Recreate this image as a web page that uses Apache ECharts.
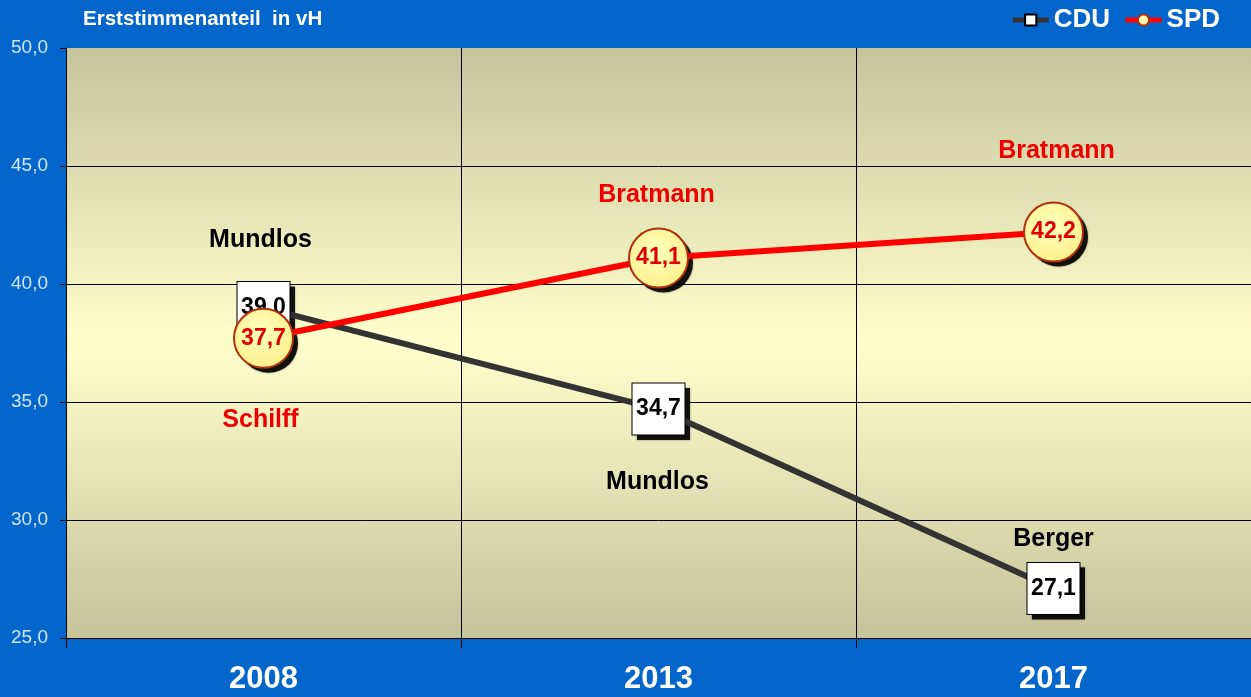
<!DOCTYPE html>
<html>
<head>
<meta charset="utf-8">
<script src="https://cdn.jsdelivr.net/npm/echarts@6/dist/echarts.min.js"></script>
<style>
html,body{margin:0;padding:0;background:#0466CA;}
#c{width:1251px;height:697px;}
</style>
</head>
<body>
<div id="c"></div>
<script>
var years = ['2008', '2013', '2017'];
var cduValues = [39.0, 34.7, 27.1];
var spdValues = [37.7, 41.1, 42.2];
var cduNames = ['Mundlos', 'Mundlos', 'Berger'];
var spdNames = ['Schilff', 'Bratmann', 'Bratmann'];
var yTicks = [25, 30, 35, 40, 45, 50];

var cduNameOffsets = [[-3, -67], [-1, 73], [0, -49]];
var spdNameOffsets = [[-3, 82], [-2, -63], [3, -81]];

function fmt(v) { return Number(v).toFixed(1).replace('.', ','); }

var font = '"Liberation Sans", Arial, sans-serif';

function nameData(vals, names, offs) {
  return vals.map(function (v, i) {
    return { value: v, name: names[i], label: { offset: offs[i] } };
  });
}

function shadowSeries(name, vals, symbol, size, z) {
  return {
    name: name, type: 'line', data: vals, z: z,
    symbol: symbol, symbolSize: size, symbolOffset: [5, 5],
    lineStyle: { opacity: 0, width: 0 },
    itemStyle: { color: 'rgba(0,0,0,0.88)', shadowColor: 'rgba(0,0,0,0.5)', shadowBlur: 2 },
    label: { show: false },
    emphasis: { disabled: true }, silent: true
  };
}

var chart = echarts.init(document.getElementById('c'), null, { renderer: 'canvas' });
chart.setOption({
  backgroundColor: '#0466CA',
  animation: false,
  textStyle: { fontFamily: font },
  title: {
    text: 'Erststimmenanteil  in vH',
    left: 83, top: 9, padding: 0,
    textStyle: { color: '#FFFFFF', fontSize: 20.5, fontWeight: 'bold', fontFamily: font }
  },
  legend: {
    data: ['CDU', 'SPD'],
    right: 31, top: 7, padding: 0,
    itemWidth: 36, itemHeight: 14, itemGap: 13,
    lineStyle: { width: 5 },
    textStyle: { color: '#FFFFFF', fontSize: 26, fontWeight: 'bold', fontFamily: font }
  },
  grid: {
    left: 66, right: 0, top: 48, bottom: 59,
    show: true, borderWidth: 0,
    backgroundColor: new echarts.graphic.LinearGradient(0, 0, 0, 1, [
      { offset: 0, color: '#C6C49C' },
      { offset: 0.5, color: '#FFFFCC' },
      { offset: 1, color: '#C4C39A' }
    ])
  },
  xAxis: {
    type: 'category',
    data: years,
    boundaryGap: true,
    axisLine: { show: true, lineStyle: { color: '#000', width: 1 } },
    axisTick: { show: true, length: 10, lineStyle: { color: '#000' } },
    axisLabel: { color: '#FFFFFF', fontSize: 31, fontWeight: 'bold', margin: 26, fontFamily: font },
    splitLine: { show: true, showMinLine: false, showMaxLine: false, lineStyle: { color: '#000', width: 1 } }
  },
  yAxis: {
    type: 'value',
    min: yTicks[0], max: yTicks[yTicks.length - 1], interval: 5,
    axisLine: { show: true, lineStyle: { color: '#000', width: 1 } },
    axisTick: { show: true, inside: false, length: 6, lineStyle: { color: '#000' } },
    axisLabel: { color: '#CDE6FF', fontSize: 19, margin: 18, formatter: fmt, fontFamily: font },
    splitLine: { show: true, showMinLine: false, showMaxLine: false, lineStyle: { color: '#000', width: 1 } }
  },
  series: [
    shadowSeries('CDU-Schatten', cduValues, 'rect', [53, 52], 2),
    {
      name: 'CDU', type: 'line', data: cduValues, z: 3,
      symbol: 'rect', symbolSize: [53, 52],
      lineStyle: { color: '#333333', width: 6 },
      itemStyle: { color: '#FFFFFF', borderColor: '#000000', borderWidth: 1 },
      label: { show: true, position: 'inside', formatter: function (p) { return fmt(p.value); },
        color: '#000000', fontSize: 23, fontWeight: 'bold', fontFamily: font },
      emphasis: { disabled: true }
    },
    shadowSeries('SPD-Schatten', spdValues, 'circle', 59, 4),
    {
      name: 'SPD', type: 'line', data: spdValues, z: 5,
      symbol: 'circle', symbolSize: 59,
      lineStyle: { color: '#FF0000', width: 6 },
      itemStyle: { color: new echarts.graphic.RadialGradient(0.45, 0.4, 0.6, [
          { offset: 0, color: '#FFFFC0' }, { offset: 1, color: '#FFF08A' }]),
        borderColor: '#B0300F', borderWidth: 2 },
      label: { show: true, position: 'inside', formatter: function (p) { return fmt(p.value); },
        color: '#E00000', fontSize: 23, fontWeight: 'bold', fontFamily: font },
      emphasis: { disabled: true }
    },
    {
      name: 'CDU-Kandidat', type: 'scatter', z: 6, symbolSize: 1,
      itemStyle: { color: 'rgba(0,0,0,0)', opacity: 1 },
      data: nameData(cduValues, cduNames, cduNameOffsets),
      label: { show: true, position: 'inside', formatter: '{b}', color: '#000000',
        fontSize: 25, fontWeight: 'bold', fontFamily: font },
      emphasis: { disabled: true }, silent: true
    },
    {
      name: 'SPD-Kandidat', type: 'scatter', z: 6, symbolSize: 1,
      itemStyle: { color: 'rgba(0,0,0,0)', opacity: 1 },
      data: nameData(spdValues, spdNames, spdNameOffsets),
      label: { show: true, position: 'inside', formatter: '{b}', color: '#EE0000',
        fontSize: 25, fontWeight: 'bold', fontFamily: font },
      emphasis: { disabled: true }, silent: true
    }
  ]
});
</script>
</body>
</html>
